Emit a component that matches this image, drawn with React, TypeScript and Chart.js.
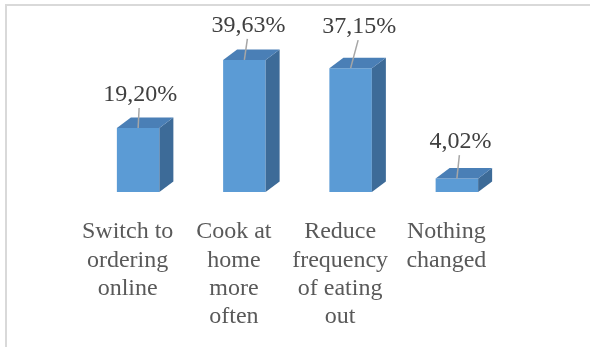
import React, { useEffect, useRef } from "react";
import { Chart, registerables } from "chart.js";

Chart.register(...registerables);

const categories: string[][] = [
  ["Switch to", "ordering", "online"],
  ["Cook at", "home", "more", "often"],
  ["Reduce", "frequency", "of eating", "out"],
  ["Nothing", "changed"],
];
const shares: number[] = [19.2, 39.63, 37.15, 4.02];
const yMax = 45;

const SERIF = '"Liberation Serif", serif';

const formatShare = (v: number) => v.toFixed(2).replace(".", ",") + "%";

// White page with the light grey frame along the top and left edges
const framePlugin = {
  id: "frame",
  beforeDraw(chart: any) {
    const { ctx, width, height } = chart;
    ctx.save();
    ctx.fillStyle = "#ffffff";
    ctx.fillRect(0, 0, width, height);
    ctx.strokeStyle = "#d9d9d9";
    ctx.lineWidth = 2;
    ctx.strokeRect(6, 5, width + 50, height + 50);
    ctx.restore();
  },
};

// Side and top faces that give each column its 3D depth
const depthPlugin = {
  id: "depth",
  afterDatasetsDraw(chart: any, _args: any, opts: any) {
    const { ctx } = chart;
    const dx = opts.dx ?? 14;
    const dy = opts.dy ?? 10.5;
    const meta = chart.getDatasetMeta(0);
    ctx.save();
    meta.data.forEach((el: any) => {
      const { x, y, base, width } = el.getProps(["x", "y", "base", "width"], true);
      const l = x - width / 2;
      const r = x + width / 2;
      ctx.fillStyle = opts.sideColor;
      ctx.beginPath();
      ctx.moveTo(r, y);
      ctx.lineTo(r + dx, y - dy);
      ctx.lineTo(r + dx, base - dy);
      ctx.lineTo(r, base);
      ctx.closePath();
      ctx.fill();
      ctx.fillStyle = opts.topColor;
      ctx.beginPath();
      ctx.moveTo(l, y);
      ctx.lineTo(l + dx, y - dy);
      ctx.lineTo(r + dx, y - dy);
      ctx.lineTo(r, y);
      ctx.closePath();
      ctx.fill();
    });
    ctx.restore();
  },
};

// Value labels joined to their columns by short leader lines
const valueLabelPlugin = {
  id: "valueLabels",
  afterDatasetsDraw(chart: any, _args: any, opts: any) {
    const { ctx } = chart;
    const meta = chart.getDatasetMeta(0);
    const values = chart.data.datasets[0].data as number[];
    ctx.save();
    ctx.font = `${opts.size}px ${SERIF}`;
    ctx.textAlign = "center";
    ctx.textBaseline = "alphabetic";
    meta.data.forEach((el: any, i: number) => {
      const { x, y } = el.getProps(["x", "y"], true);
      const [ox, oy] = opts.offsets[i];
      const lx = x + ox;
      const ly = y + oy;
      ctx.strokeStyle = opts.leaderColor;
      ctx.lineWidth = 1.5;
      ctx.beginPath();
      ctx.moveTo(lx - 1, ly + 7);
      ctx.lineTo(x, y);
      ctx.stroke();
      ctx.fillStyle = opts.color;
      ctx.fillText(formatShare(values[i]), lx, ly);
    });
    ctx.restore();
  },
};

export default function App() {
  const canvasRef = useRef<HTMLCanvasElement | null>(null);

  useEffect(() => {
    document.body.style.margin = "0";
    const canvas = canvasRef.current;
    if (!canvas) return;
    const chart = new Chart(canvas, {
      type: "bar",
      data: {
        labels: categories,
        datasets: [
          {
            data: shares,
            backgroundColor: "#5b9bd5",
            borderWidth: 0,
            barPercentage: 0.4,
            categoryPercentage: 1,
          },
        ],
      },
      options: {
        responsive: false,
        animation: false,
        devicePixelRatio: 1,
        layout: { padding: { left: 85, right: 80, top: 42, bottom: 10 } },
        plugins: {
          legend: { display: false },
          tooltip: { enabled: false },
          depth: { dx: 14, dy: 10.5, sideColor: "#3d6b98", topColor: "#4a7fb6" },
          valueLabels: {
            size: 24,
            color: "#404040",
            leaderColor: "#a6a6a6",
            offsets: [
              [2, -27],
              [4, -28],
              [8.5, -35],
              [3.5, -30.5],
            ],
          },
        } as any,
        scales: {
          x: {
            type: "category",
            grid: { display: false, drawTicks: false, tickLength: 0 },
            border: { display: false },
            afterFit: (axis: any) => {
              axis.height = 145;
            },
            ticks: {
              color: "#595959",
              font: { family: SERIF, size: 24, lineHeight: 1.18 },
              padding: 26,
              labelOffset: -10.5,
              autoSkip: false,
              maxRotation: 0,
              minRotation: 0,
            },
          },
          y: {
            display: false,
            min: 0,
            max: yMax,
          },
        },
      },
      plugins: [framePlugin, depthPlugin, valueLabelPlugin],
    });
    return () => chart.destroy();
  }, []);

  return (
    <div style={{ width: 590, height: 347, overflow: "hidden" }}>
      <canvas ref={canvasRef} width={590} height={347} style={{ display: "block" }} />
    </div>
  );
}
